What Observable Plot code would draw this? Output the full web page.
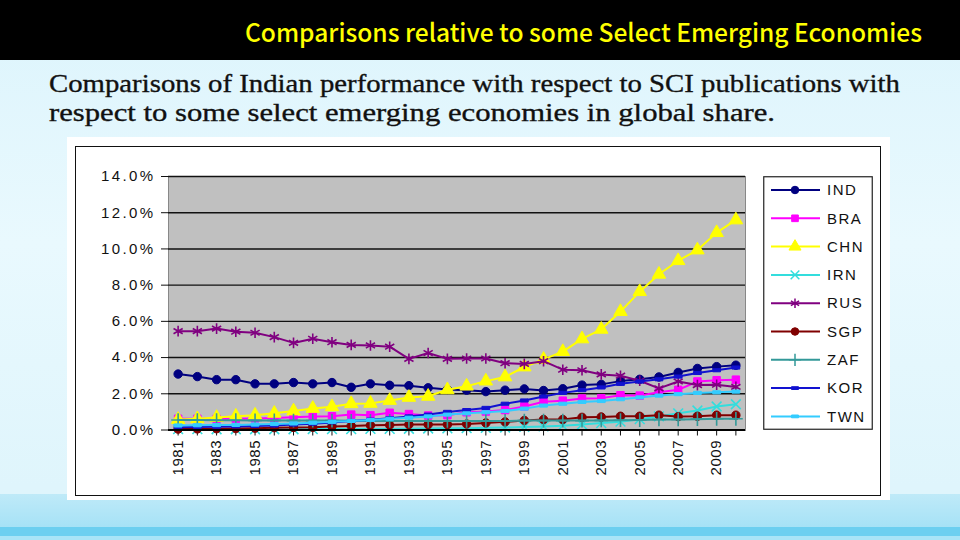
<!DOCTYPE html>
<html>
<head>
<meta charset="utf-8">
<script src="https://cdn.jsdelivr.net/npm/d3@7"></script>
<script src="https://cdn.jsdelivr.net/npm/@observablehq/plot@0.6"></script>
<style>
  html, body { margin: 0; padding: 0; }
  body { width: 960px; height: 540px; position: relative; overflow: hidden;
         background: linear-gradient(to bottom, #dcf4fc 0%, #e9f9fe 45%, #dff5fc 90%); }
  #header { position: absolute; left: 0; top: 0; width: 960px; height: 60px; background: #000; }
  .stripe { position: absolute; left: 0; width: 960px; }
  #whitebox { position: absolute; left: 67px; top: 137px; width: 823px; height: 363px; background: #fff; }
  #frame { position: absolute; left: 75px; top: 146px; width: 804px; height: 348px; border: 1.5px solid #111; }
  #chart { position: absolute; left: 67px; top: 137px; }
  #legend { position: absolute; left: 763px; top: 176px; }
  #chart text { fill: #111; }
  #chart g[aria-label="y-axis tick label"] text, #chart g[aria-label="y-axis"] text { letter-spacing: 2.4px; }
  #chart g[aria-label="x-axis tick label"] text, #chart g[aria-label="x-axis"] text { letter-spacing: 0.5px; }
</style>
</head>
<body>
<div class="stripe" style="top:494px;height:33px;background:linear-gradient(to bottom,#bfeaf8,#a6e2f6);"></div>
<div class="stripe" style="top:527px;height:9px;background:#6ccff0;"></div>
<div class="stripe" style="top:536px;height:4px;background:#a8e4f7;"></div>
<div id="header"></div>
<svg style="position:absolute;left:0;top:0;overflow:visible" width="960" height="135">
  <text x="245" y="42" textLength="677" lengthAdjust="spacingAndGlyphs" font-family="Noto Sans CJK JP, Noto Sans, sans-serif" font-weight="500" font-size="25" fill="#ffff00">Comparisons relative to some Select Emerging Economies</text>
  <text x="49" y="92" textLength="851" lengthAdjust="spacingAndGlyphs" font-family="Liberation Serif, DejaVu Serif, serif" font-size="26" fill="#111" stroke="#111" stroke-width="0.35">Comparisons of Indian performance with respect to SCI publications with</text>
  <text x="49" y="121" textLength="726" lengthAdjust="spacingAndGlyphs" font-family="Liberation Serif, DejaVu Serif, serif" font-size="26" fill="#111" stroke="#111" stroke-width="0.35">respect to some select emerging economies in global share.</text>
</svg>
<div id="whitebox"></div>
<div id="frame"></div>
<div id="chart"></div>
<div id="legend"></div>
<script>
// ---- data (share of global SCI publications, %) ----
const years = d3.range(1981, 2011);
const yTicks = [0, 2, 4, 6, 8, 10, 12, 14];
const seriesNames = ["IND", "BRA", "CHN", "IRN", "RUS", "SGP", "ZAF", "KOR", "TWN"];

const IND = [3.09, 2.95, 2.78, 2.78, 2.55, 2.55, 2.62, 2.55, 2.62, 2.36, 2.55, 2.47, 2.45, 2.33, 2.24, 2.20, 2.12, 2.20, 2.27, 2.18, 2.28, 2.48, 2.52, 2.70, 2.80, 2.93, 3.18, 3.40, 3.50, 3.58];
const BRA = [0.62, 0.62, 0.62, 0.62, 0.64, 0.66, 0.70, 0.74, 0.76, 0.85, 0.82, 0.95, 0.88, 0.80, 0.82, 0.98, 1.02, 1.10, 1.30, 1.56, 1.62, 1.74, 1.76, 1.92, 1.90, 2.08, 2.22, 2.68, 2.75, 2.78];
const CHN = [0.58, 0.62, 0.69, 0.76, 0.82, 0.92, 1.05, 1.19, 1.28, 1.45, 1.47, 1.63, 1.80, 1.86, 2.22, 2.42, 2.70, 2.93, 3.48, 3.90, 4.33, 5.03, 5.56, 6.54, 7.64, 8.60, 9.35, 9.94, 10.90, 11.60];
const IRN = [0.05, 0.05, 0.04, 0.04, 0.04, 0.04, 0.04, 0.05, 0.05, 0.05, 0.06, 0.06, 0.07, 0.08, 0.09, 0.10, 0.12, 0.14, 0.17, 0.20, 0.24, 0.30, 0.38, 0.46, 0.60, 0.75, 0.92, 1.08, 1.30, 1.42];
const RUS = [5.46, 5.46, 5.60, 5.43, 5.37, 5.13, 4.81, 5.04, 4.85, 4.70, 4.67, 4.60, 3.93, 4.25, 3.93, 3.95, 3.95, 3.69, 3.65, 3.80, 3.33, 3.30, 3.07, 3.00, 2.72, 2.30, 2.68, 2.48, 2.50, 2.38];
const SGP = [0.05, 0.06, 0.07, 0.08, 0.10, 0.13, 0.14, 0.15, 0.20, 0.22, 0.26, 0.27, 0.30, 0.30, 0.30, 0.33, 0.39, 0.45, 0.53, 0.58, 0.58, 0.70, 0.72, 0.76, 0.76, 0.82, 0.74, 0.76, 0.82, 0.82];
const ZAF = [0.55, 0.55, 0.54, 0.54, 0.53, 0.53, 0.52, 0.52, 0.52, 0.51, 0.50, 0.50, 0.50, 0.50, 0.50, 0.50, 0.50, 0.50, 0.52, 0.52, 0.52, 0.52, 0.53, 0.54, 0.55, 0.58, 0.58, 0.60, 0.62, 0.62];
const KOR = [0.15, 0.16, 0.18, 0.20, 0.22, 0.25, 0.30, 0.35, 0.42, 0.50, 0.57, 0.65, 0.75, 0.85, 1.00, 1.10, 1.22, 1.45, 1.63, 1.85, 2.05, 2.20, 2.35, 2.55, 2.68, 2.80, 2.95, 3.15, 3.30, 3.45];
const TWN = [0.25, 0.26, 0.27, 0.28, 0.30, 0.33, 0.36, 0.40, 0.45, 0.50, 0.55, 0.62, 0.68, 0.75, 0.85, 0.92, 0.98, 1.05, 1.18, 1.35, 1.45, 1.55, 1.60, 1.70, 1.80, 1.90, 1.98, 2.05, 2.08, 2.12];

// ---- styles ----
const dash = { draw(ctx, size) { const w = Math.sqrt(size) * 1.1, h = w * 0.4; ctx.rect(-w / 2, -h / 2, w, h); } };
const styles = {
  IND: { values: IND, color: "#000080", symbol: "circle", fill: "#000080", r: 4.2 },
  BRA: { values: BRA, color: "#ff00ff", symbol: "square", fill: "#ff00ff", r: 4.2 },
  CHN: { values: CHN, color: "#ffff00", symbol: "triangle", fill: "#ffff00", r: 5 },
  IRN: { values: IRN, color: "#33dddd", symbol: "times", fill: "none", r: 4.5 },
  RUS: { values: RUS, color: "#800080", symbol: "asterisk", fill: "none", r: 5 },
  SGP: { values: SGP, color: "#800000", symbol: "circle", fill: "#800000", r: 4.2 },
  ZAF: { values: ZAF, color: "#339999", symbol: "plus", fill: "none", r: 4.5 },
  KOR: { values: KOR, color: "#1212d0", symbol: dash, fill: "#1212d0", r: 4 },
  TWN: { values: TWN, color: "#33ccff", symbol: dash, fill: "#33ccff", r: 4 }
};

const marks = [
  Plot.frame({ fill: "#c0c0c0", stroke: "#888", strokeWidth: 1 }),
  Plot.ruleY(yTicks.filter(d => d > 0), { stroke: "#111", strokeWidth: 1.4 })
];
for (const name of seriesNames) {
  const s = styles[name];
  const data = years.map((yr, i) => ({ year: yr, value: s.values[i], series: name }));
  marks.push(Plot.line(data, { x: "year", y: "value", stroke: s.color, strokeWidth: 2 }));
  marks.push(Plot.dot(data, { x: "year", y: "value", symbol: s.symbol, r: s.r, fill: s.fill, stroke: s.color, strokeWidth: s.fill === "none" ? 1.6 : 1 }));
}
marks.push(Plot.ruleY([0], { stroke: "#000", strokeWidth: 2 }));

const chart = Plot.plot({
  width: 823, height: 363,
  marginLeft: 101, marginRight: 145, marginTop: 39, marginBottom: 70.5,
  style: { fontFamily: "Liberation Sans, Arial, sans-serif", fontSize: "15px", background: "transparent", color: "#111", overflow: "visible" },
  x: { type: "linear", domain: [1980.5, 2010.5], ticks: years, tickFormat: d => (d % 2 ? String(d) : ""), tickRotate: -90, tickSize: 6, tickPadding: 4, label: null, line: true },
  y: { domain: [0, 14], ticks: yTicks, tickFormat: d => d.toFixed(1) + "%", tickSize: 7, tickPadding: 6, label: null, line: true },
  marks
});
document.getElementById("chart").appendChild(chart);

// ---- legend ----
const lw = 110, lh = 254;
const leg = d3.select("#legend").append("svg").attr("width", lw).attr("height", lh);
leg.append("rect").attr("x", 0.75).attr("y", 0.75).attr("width", lw - 1.5).attr("height", lh - 1.5)
  .attr("fill", "#fff").attr("stroke", "#222").attr("stroke-width", 1.2);
const d3sym = { circle: d3.symbolCircle, square: d3.symbolSquare, triangle: d3.symbolTriangle, times: d3.symbolTimes, asterisk: d3.symbolAsterisk, plus: d3.symbolPlus };
seriesNames.forEach((name, i) => {
  const s = styles[name];
  const y = 14 + i * 28.3;
  const g = leg.append("g").attr("transform", `translate(0,${y})`);
  g.append("line").attr("x1", 8).attr("x2", 57).attr("y1", 0).attr("y2", 0).attr("stroke", s.color).attr("stroke-width", 2);
  const symType = typeof s.symbol === "string" ? d3sym[s.symbol] : s.symbol;
  g.append("path").attr("transform", "translate(32,0)")
    .attr("d", d3.symbol(symType, Math.PI * s.r * s.r * 0.8)())
    .attr("fill", s.fill).attr("stroke", s.color).attr("stroke-width", s.fill === "none" ? 1.5 : 1);
  g.append("text").attr("x", 64).attr("y", 0).attr("dy", "0.35em")
    .attr("font-family", "Liberation Sans, Arial, sans-serif").attr("font-size", 15)
    .attr("letter-spacing", "1.5px").attr("fill", "#111").text(name);
});
</script>
</body>
</html>
